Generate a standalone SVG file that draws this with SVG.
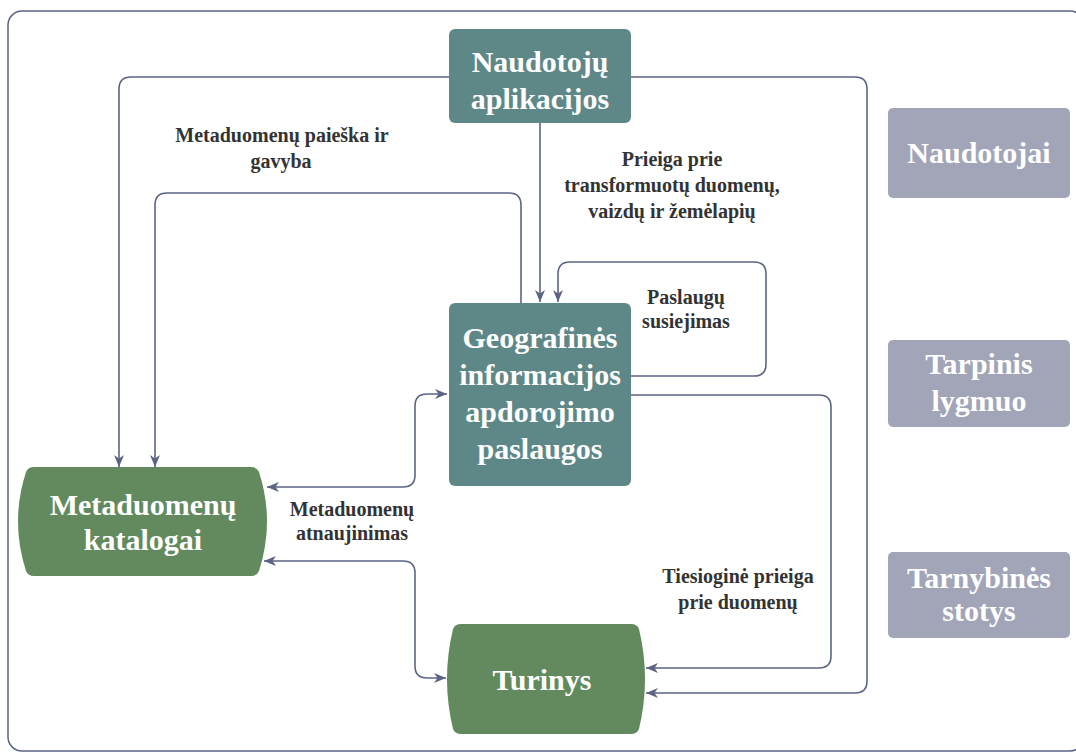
<svg xmlns="http://www.w3.org/2000/svg" width="1076" height="754" viewBox="0 0 1076 754">
<defs>
<marker id="arr" viewBox="0 0 12 10" refX="12" refY="5" markerWidth="12" markerHeight="10" markerUnits="userSpaceOnUse" orient="auto-start-reverse">
<path d="M0,0 L12,5 L0,10 L3.5,5 Z" fill="#5b6485"/>
</marker>
<style>
.frame{fill:#fff;stroke:#5b6485;stroke-width:1.5}
.teal{fill:#5e8888}
.green{fill:#638a5e}
.gray{fill:#a2a5b8}
.nt{font-family:"Liberation Serif","Times New Roman",serif;font-weight:bold;font-size:30px;fill:#fff;text-anchor:middle}
.lt{font-family:"Liberation Serif","Times New Roman",serif;font-weight:bold;font-size:20px;fill:#333;text-anchor:middle}
.c{fill:none;stroke:#5b6485;stroke-width:1.6}
</style>
</defs>
<rect class="frame" x="8" y="11" width="1076" height="740" rx="14"/>
<g id="connectors">
<path class="c" d="M449,77 H131 Q119,77 119,89 V467" marker-end="url(#arr)"/>
<path class="c" d="M631,77 H855 Q867,77 867,89 V681 Q867,693 855,693 H646" marker-end="url(#arr)"/>
<path class="c" d="M521,303 V205 Q521,193 509,193 H167 Q155,193 155,205 V467" marker-end="url(#arr)"/>
<path class="c" d="M540,123 V302" marker-end="url(#arr)"/>
<path class="c" d="M631,376 H754 Q766,376 766,364 V274 Q766,262 754,262 H570 Q558,262 558,274 V302" marker-end="url(#arr)"/>
<path class="c" d="M631,395 H819 Q831,395 831,407 V656 Q831,668 819,668 H646" marker-end="url(#arr)"/>
<path class="c" d="M267,487 H403 Q415,487 415,475 V406 Q415,394 427,394 H447" marker-start="url(#arr)" marker-end="url(#arr)"/>
<path class="c" d="M264,561 H403 Q415,561 415,573 V666 Q415,678 427,678 H446" marker-start="url(#arr)" marker-end="url(#arr)"/>
</g>
<g id="labels">
<text class="lt" x="282" y="142">Metaduomenų paieška ir</text>
<text class="lt" x="281" y="168">gavyba</text>
<text class="lt" x="672" y="166">Prieiga prie</text>
<text class="lt" x="672" y="192">transformuotų duomenų,</text>
<text class="lt" x="672" y="218">vaizdų ir žemėlapių</text>
<text class="lt" x="686" y="304">Paslaugų</text>
<text class="lt" x="686" y="328">susiejimas</text>
<text class="lt" x="352" y="516">Metaduomenų</text>
<text class="lt" x="352" y="540">atnaujinimas</text>
<text class="lt" x="738" y="583">Tiesioginė prieiga</text>
<text class="lt" x="738" y="609">prie duomenų</text>
</g>
<g id="naudotoju-aplikacijos">
<rect class="teal" x="449" y="29" width="182" height="94" rx="6"/>
<text class="nt" x="540" y="72">Naudotojų</text>
<text class="nt" x="540" y="109">aplikacijos</text>
</g>
<g id="geo-paslaugos">
<rect class="teal" x="449" y="303" width="182" height="183" rx="6"/>
<text class="nt" x="540" y="348">Geografinės</text>
<text class="nt" x="540" y="385">informacijos</text>
<text class="nt" x="540" y="422">apdorojimo</text>
<text class="nt" x="540" y="459">paslaugos</text>
</g>
<g id="metaduomenu-katalogai">
<path class="green" d="M34,467 H251 Q257,467 259,472 Q275,521.5 259,571 Q257,576 251,576 H34 Q28,576 26,571 Q10,521.5 26,472 Q28,467 34,467 Z"/>
<text class="nt" x="143" y="515">Metaduomenų</text>
<text class="nt" x="143" y="550">katalogai</text>
</g>
<g id="turinys">
<path class="green" d="M461,624 H631 Q637,624 639,629 Q651,679 639,729 Q637,734 631,734 H461 Q455,734 453,729 Q441,679 453,629 Q455,624 461,624 Z"/>
<text class="nt" x="542" y="690">Turinys</text>
</g>
<g id="naudotojai">
<rect class="gray" x="888" y="108" width="182" height="90" rx="5"/>
<text class="nt" x="979" y="163">Naudotojai</text>
</g>
<g id="tarpinis-lygmuo">
<rect class="gray" x="888" y="340" width="182" height="87" rx="5"/>
<text class="nt" x="979" y="374">Tarpinis</text>
<text class="nt" x="979" y="411">lygmuo</text>
</g>
<g id="tarnybines-stotys">
<rect class="gray" x="888" y="552" width="182" height="86" rx="5"/>
<text class="nt" x="979" y="588">Tarnybinės</text>
<text class="nt" x="979" y="621">stotys</text>
</g>
</svg>
